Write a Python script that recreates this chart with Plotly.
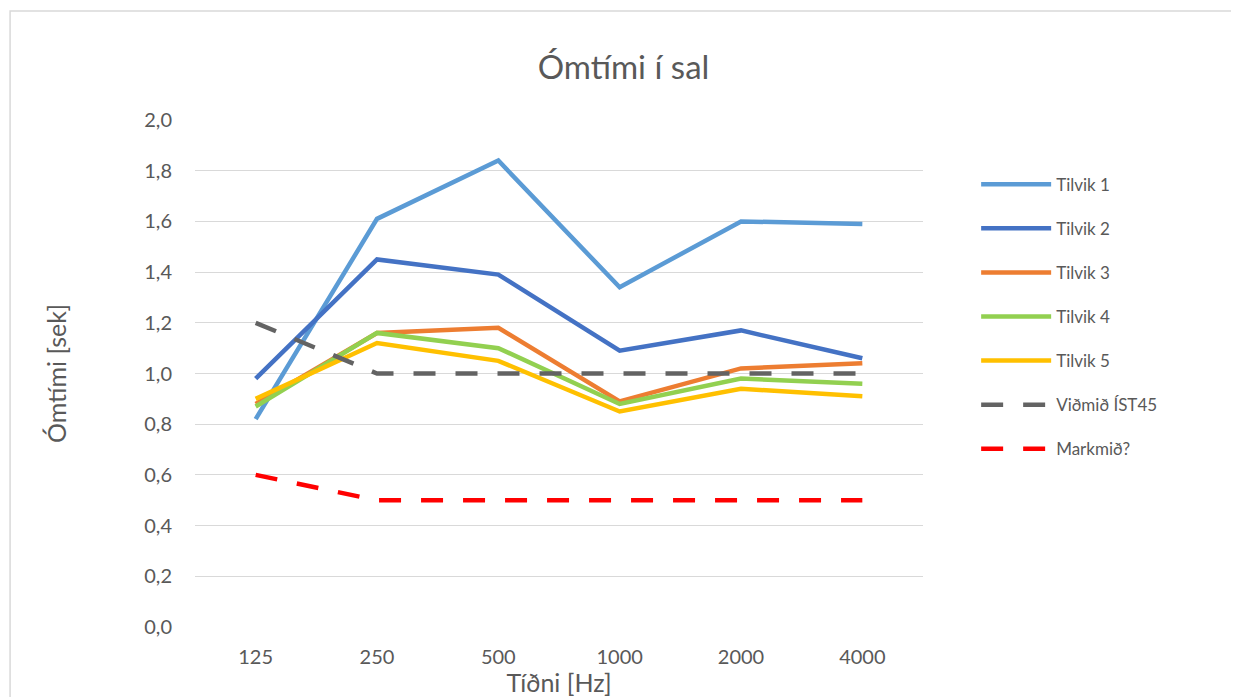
import plotly.graph_objects as go

categories = ["125", "250", "500", "1000", "2000", "4000"]
tilvik1 = [0.82, 1.61, 1.84, 1.34, 1.60, 1.59]
tilvik2 = [0.98, 1.45, 1.39, 1.09, 1.17, 1.06]
tilvik3 = [0.88, 1.16, 1.18, 0.89, 1.02, 1.04]
tilvik4 = [0.87, 1.16, 1.10, 0.88, 0.98, 0.96]
tilvik5 = [0.90, 1.12, 1.05, 0.85, 0.94, 0.91]
vidmid = [1.2, 1.0, 1.0, 1.0, 1.0, 1.0]
markmid = [0.6, 0.5, 0.5, 0.5, 0.5, 0.5]

series = [
    ("Tilvik 1", tilvik1, "#5B9BD5", "solid"),
    ("Tilvik 2", tilvik2, "#4472C4", "solid"),
    ("Tilvik 3", tilvik3, "#ED7D31", "solid"),
    ("Tilvik 4", tilvik4, "#92D050", "solid"),
    ("Tilvik 5", tilvik5, "#FFC000", "solid"),
    ("Viðmið ÍST45", vidmid, "#636363", "22px,20px"),
    ("Markmið?", markmid, "#FF0000", "22px,20px"),
]

font_family = "Lato, Open Sans, sans-serif"
fig = go.Figure()
for i, (name, vals, color, dash) in enumerate(series):
    fig.add_trace(go.Scatter(
        x=categories, y=vals, name=name, mode="lines",
        legendgroup=f"g{i}",
        line=dict(color=color, width=4.5, dash=dash),
    ))

fig.update_layout(
    width=1231, height=689,
    margin=dict(l=187, r=316, t=112, b=70, autoexpand=False),
    paper_bgcolor="white", plot_bgcolor="white",
    title=dict(text="Ómtími í sal", x=0.5, xanchor="center", xref="container",
               y=0.914, yanchor="middle",
               font=dict(family=font_family, size=33, color="#595959")),
    font=dict(family=font_family, color="#595959"),
    xaxis=dict(type="category", range=[-0.5, 5.5], showgrid=False, showline=False,
               automargin=False,
               ticks="outside", ticklen=12, tickcolor="rgba(0,0,0,0)",
               tickfont=dict(size=20, color="#595959"),
               title=dict(text="Tíðni [Hz]", font=dict(size=25, color="#595959"), standoff=5),
               zeroline=False),
    yaxis=dict(range=[0, 2.0], dtick=0.2, tickformat=".1f", showgrid=True,
               automargin=False,
               gridcolor="#D9D9D9", gridwidth=1, zeroline=False, showline=False,
               ticks="outside", ticklen=18, tickcolor="rgba(0,0,0,0)",
               tickfont=dict(size=20, color="#595959"),
               title=dict(text="Ómtími [sek]", font=dict(size=25, color="#595959"), standoff=70)),
    separators=",.",
    legend=dict(x=1.073, xanchor="left", y=0.908, yanchor="top", xref="paper",
                font=dict(size=17, color="#595959"), tracegroupgap=19,
                itemwidth=70, bgcolor="rgba(0,0,0,0)"),
    shapes=[dict(type="path", xref="paper", yref="paper",
                 path="M -0.254,-0.2 L -0.254,1.215 L 1.6,1.215",
                 line=dict(color="#D9D9D9", width=1.5),
                 layer="below")],
)

fig.write_html("out.html")
